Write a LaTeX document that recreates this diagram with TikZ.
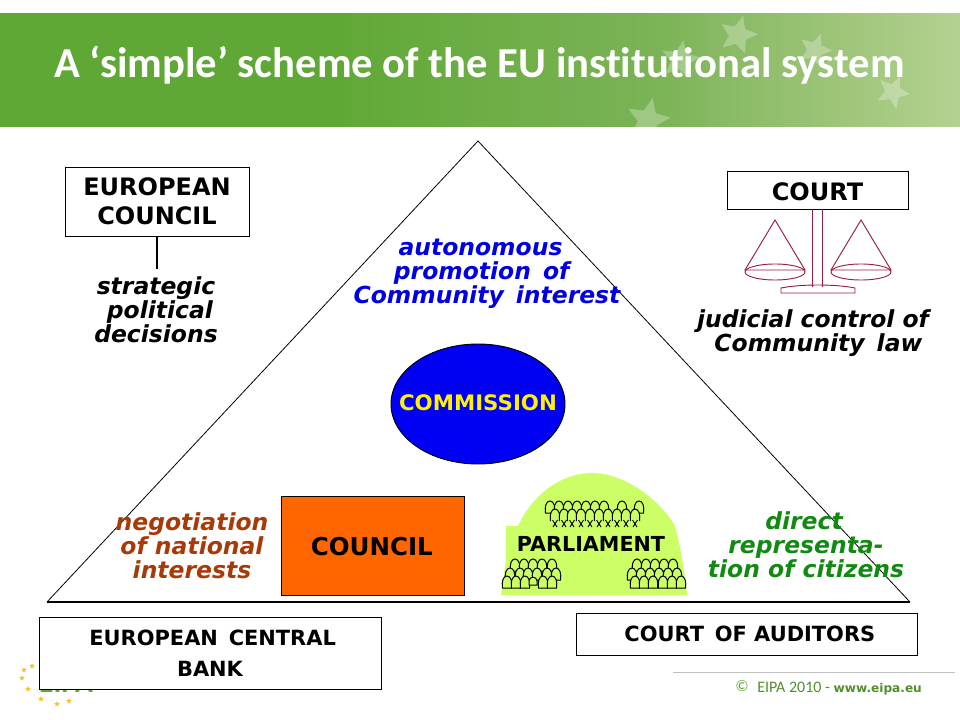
\documentclass[tikz,border=0pt]{standalone}
\usepackage{fontspec}
\setmainfont{DejaVu Sans}
\newfontfamily\titlefont[Ligatures=NoCommon]{Carlito}
\usetikzlibrary{shapes.geometric}
\definecolor{lblblue}{HTML}{0000E0}
\definecolor{lblred}{HTML}{A83A08}
\definecolor{lblgreen}{HTML}{128A12}
\definecolor{orangefill}{HTML}{FF6600}
\definecolor{domefill}{HTML}{CCFF66}
\definecolor{scalered}{HTML}{9A1F3F}
\definecolor{eipagreen}{HTML}{5FA835}
\definecolor{bannermid}{HTML}{7BB356}
\definecolor{bannerend}{HTML}{B4D190}
\definecolor{logoyellow}{HTML}{F5C230}
\pgfdeclarehorizontalshading{bannershade}{100bp}{
  color(0bp)=(eipagreen);
  color(25bp)=(eipagreen);
  color(42bp)=(eipagreen);
  color(59bp)=(bannermid);
  color(75bp)=(bannerend);
  color(100bp)=(bannerend)}
\tikzset{
  x=0.75pt,y=-0.75pt,
  boxnode/.style={draw=black,line width=0.7pt,fill=white,inner sep=0pt,align=center,font=\fontsize{18}{21.75}\selectfont\bfseries},
  lbl/.style={inner sep=0pt,align=center,font=\fontsize{17.6}{18}\selectfont\bfseries\itshape},
  smallbox/.style={boxnode,font=\fontsize{15.7}{23}\selectfont\bfseries},
  seat/.pic={\draw[black,fill=domefill,line width=0.75pt] (-4.5,6) .. controls (-5.5,0) and (-4,-6) .. (0,-6) .. controls (4,-6) and (5.5,0) .. (4.5,6) -- cycle;},
  openseat/.pic={\draw[black,fill=domefill,line width=0.75pt] (-4.5,6) .. controls (-5.5,0) and (-4,-6) .. (0,-6) .. controls (4,-6) and (5.5,0) .. (4.5,6);},
  leg/.pic={\draw[black,line width=0.7pt] (-2.5,-3) -- (2,4) (2.5,-3) -- (-2,4);},
  starmark/.style={star,star points=5,star point ratio=2.2,fill=white,fill opacity=0.28,inner sep=0pt},
  logostar/.style={star,star points=5,star point ratio=2.2,fill=logoyellow,inner sep=0pt,minimum size=4.5pt},
  scaleline/.style={draw=scalered,line width=0.7pt},
}
\begin{document}
\begin{tikzpicture}
\useasboundingbox (0,0) rectangle (960,720);
\fill[white] (0,0) rectangle (960,720);
% banner
\begin{scope}
\clip (0,14) rectangle (960,127);
\shade[shading=bannershade] (0,14) rectangle (960,127);
\node[starmark,minimum size=30pt,rotate=-15] (s1) at (738,35) {};
\node[starmark,minimum size=26pt,rotate=-20] (s2) at (815,50) {};
\node[starmark,minimum size=30pt,rotate=-10] (s3) at (680,60) {};
\node[starmark,minimum size=26pt,rotate=-25] (s4) at (893,92) {};
\node[starmark,minimum size=34pt,rotate=-12] (s5) at (648,120) {};
\end{scope}
\node[text=white,font=\titlefont\fontsize{32}{36}\selectfont\bfseries,inner sep=0pt] (title) at (479.5,65) {A ‘simple’ scheme of the EU institutional system};
% triangle
\coordinate (apex) at (478,141);
\coordinate (tl) at (47,602);
\coordinate (tr) at (910,602);
\draw[black,line width=0.6pt] (tl) -- (apex) -- (tr);
\draw[black,line width=0.9pt] (tl) -- (tr);
% logo
\node[text=eipagreen,font=\titlefont\fontsize{22}{24}\selectfont\bfseries,inner sep=0pt] (eipa) at (66,683) {EIPA};
\foreach \n/\a/\b in {1/32/666,2/24/670,3/22/678,4/28/689,5/41/699,6/57/704,7/69/701}
  \node[logostar] (ls\n) at (\a,\b) {};
% boxes
\node[boxnode,minimum width=138pt,minimum height=51.75pt] (ec) at (157,201.5) {EUROPEAN\\COUNCIL};
\coordinate (ecend) at (157,269);
\draw[black,line width=0.8pt] (ec.south) -- (ecend);
\node[boxnode,minimum width=135.75pt,minimum height=28.5pt,text height=15.5pt,text depth=0pt] (court) at (817.5,190) {COURT};
\node[smallbox,minimum width=256.5pt,minimum height=54pt] (ecb) at (210,653) {\hspace*{4pt}EUROPEAN\, CENTRAL\\BANK};
\node[smallbox,minimum width=255.75pt,minimum height=31.5pt] (aud) at (746.5,634) {\hspace*{5pt}COURT\, OF AUDITORS};
% scales
\draw[scaleline] ([xshift=-3.75pt]court.south) -- ++(0,-58.5pt) ([xshift=3.75pt]court.south) -- ++(0,-58.5pt);
\draw[scaleline] (781,293) -- (855,293) -- (855,288) .. controls (835,284) and (801,284) .. (781,288) -- cycle;
\foreach \c in {775,861}{
  \draw[scaleline] (\c,272) ellipse [x radius=30,y radius=8];
  \draw[scaleline] (\c-30,270) -- (\c,220) -- (\c+30,270) -- cycle;
}
% labels
\node[lbl] (l1) at (156,309.5) {strategic\\\,\,political\\decisions};
\node[lbl,text=lblblue] (l2) at (487,274) {autonomous\hspace*{9.75pt}\\\mbox{promotion\, of\hspace{8pt}}\\Community\, interest};
\node[lbl] (l3) at (813,333) {judicial control of\\\hspace*{8pt}Community\, law};
\node[lbl,text=lblred] (l4) at (192,546) {negotiation\\of national\\interests};
\node[lbl,text=lblgreen] (l5) at (806,544.5) {direct\hspace*{3pt}\\representa-\\tion of citizens};
% commission
\node[ellipse,draw=black,fill=blue!95!black,line width=0.7pt,minimum width=130.5pt,minimum height=90pt,inner sep=0pt] (comm) at (478,404) {};
\node[text=yellow,inner sep=0pt,font=\fontsize{16}{19}\selectfont\bfseries] (commtext) at (478,403) {COMMISSION};
% council
\node[draw=black,line width=0.7pt,fill=orangefill,minimum width=137.25pt,minimum height=74.25pt,inner sep=0pt,text height=15.5pt,text depth=0pt,font=\fontsize{18.4}{21}\selectfont\bfseries] (council) at (372.5,545.5) {\hspace*{-1pt}COUNCIL};
% parliament
\fill[domefill] (501,595) -- (506,560) -- (506,526) -- (518,526) .. controls (535,490) and (565,473) .. (592,473) .. controls (625,473) and (660,500) .. (675,526) .. controls (680,545) and (685,570) .. (687,595) -- cycle;
\foreach \a in {550,559,568,577,586,595,604,622,639} \pic at (\a,507) {seat};
\foreach \a in {555,564,572,581,590,599,608,617,626,635} \pic at (\a,515) {openseat};
\foreach \a in {555,564,572,581,590,599,608,617,626,635} \pic at (\a,523) {leg};
\foreach \a in {515,524,533,542,552,637,646,655,664,673} \pic at (\a,565) {seat};
\foreach \a in {510,520,528,537,547,556,632,641,650,659,668,677} \pic at (\a,574) {seat};
\foreach \a in {507,516,525,543,552,635,644,653,663,672,681} \pic at (\a,582) {seat};
\draw[black,fill=domefill,line width=0.75pt] (529,581) -- (529,585) -- (537,585) -- (537,581) .. controls (537,576) and (529,576) .. (529,581);
\node[inner sep=0pt,font=\fontsize{15.5}{18}\selectfont\bfseries] (parl) at (591,544) {PARLIAMENT};
% footer
\coordinate (fl) at (673,672);
\coordinate (fr) at (955,672);
\draw[black!25,line width=0.7pt] (fl) -- (fr);
\node[text=eipagreen,font=\titlefont\fontsize{12}{14}\selectfont,inner sep=0pt] (cp) at (742,686) {©};
\node[anchor=west,text=eipagreen!85!black,inner sep=0pt,font=\titlefont\fontsize{12}{14}\selectfont] (foot) at (757,689) {EIPA 2010 - {\fontsize{9.1}{12}\selectfont\rmfamily\bfseries www.eipa.eu}};
\end{tikzpicture}
\end{document}
